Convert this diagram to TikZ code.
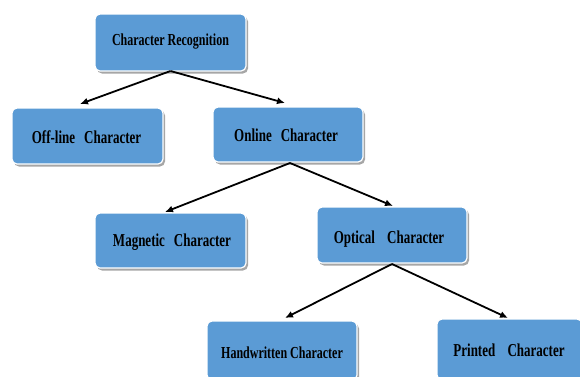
\documentclass[tikz,border=0pt]{standalone}
\usepackage{fontspec}
\setmainfont{Liberation Serif}
\usetikzlibrary{shadows,arrows.meta}
\definecolor{boxblue}{HTML}{5B9BD5}
\newcommand{\tallt}[1]{\scalebox{1}[1.4]{#1}}
\newcommand{\gp}{\hspace{9pt}}
\begin{document}
\begin{tikzpicture}[x=1pt,y=-1pt,
  box/.style={draw=white,line width=1.2pt,fill=boxblue,rounded corners=5pt,
    drop shadow={shadow xshift=2pt,shadow yshift=-2.5pt,fill=black!50,opacity=0.7}},
  lbl/.style={font=\bfseries\fontsize{13}{15}\selectfont,inner sep=0pt},
  arr/.style={-{Latex[length=8pt,width=7pt]},line width=1.8pt,black}]
\useasboundingbox (0,0) rectangle (580,376);
\clip (0,0) rectangle (580,376);
\draw[box] (95,14) rectangle (246,71);
\node[lbl,font=\bfseries\fontsize{12}{14}\selectfont] (cr) at (170.5,42) {\tallt{Character Recognition}};
\coordinate (crb) at (170.5,71);
\draw[box] (12,108) rectangle (163,164);
\node[lbl] (off) at (86.5,137) {\tallt{Off-line\gp Character}};
\coordinate (offt) at (80,104);
\draw[box] (213,107) rectangle (363,162);
\node[lbl] (onl) at (286,135) {\tallt{Online\gp Character}};
\coordinate (onlt) at (285,103);
\coordinate (onlb) at (290,163);
\draw[box] (95,213) rectangle (246,268);
\node[lbl] (mag) at (172,242) {\tallt{Magnetic\gp Character}};
\coordinate (magt) at (165,212);
\draw[box] (317,207) rectangle (467,263);
\node[lbl] (opt) at (389,239) {\tallt{Optical\gp\ Character}};
\coordinate (optt) at (393,206);
\coordinate (optb) at (392,264);
\draw[box] (207,321) rectangle (357,380);
\node[lbl,font=\bfseries\fontsize{12}{14}\selectfont] (hw) at (282,353) {\tallt{Handwritten Character}};
\coordinate (hwt) at (285,318);
\draw[box] (437,319) rectangle (582,380);
\node[lbl] (pr) at (509,350) {\tallt{Printed\gp\ Character}};
\coordinate (prt) at (508,318);
\draw[arr] (crb) -- (offt);
\draw[arr] (crb) -- (onlt);
\draw[arr] (onlb) -- (magt);
\draw[arr] (onlb) -- (optt);
\draw[arr] (optb) -- (hwt);
\draw[arr] (optb) -- (prt);
\end{tikzpicture}
\end{document}
